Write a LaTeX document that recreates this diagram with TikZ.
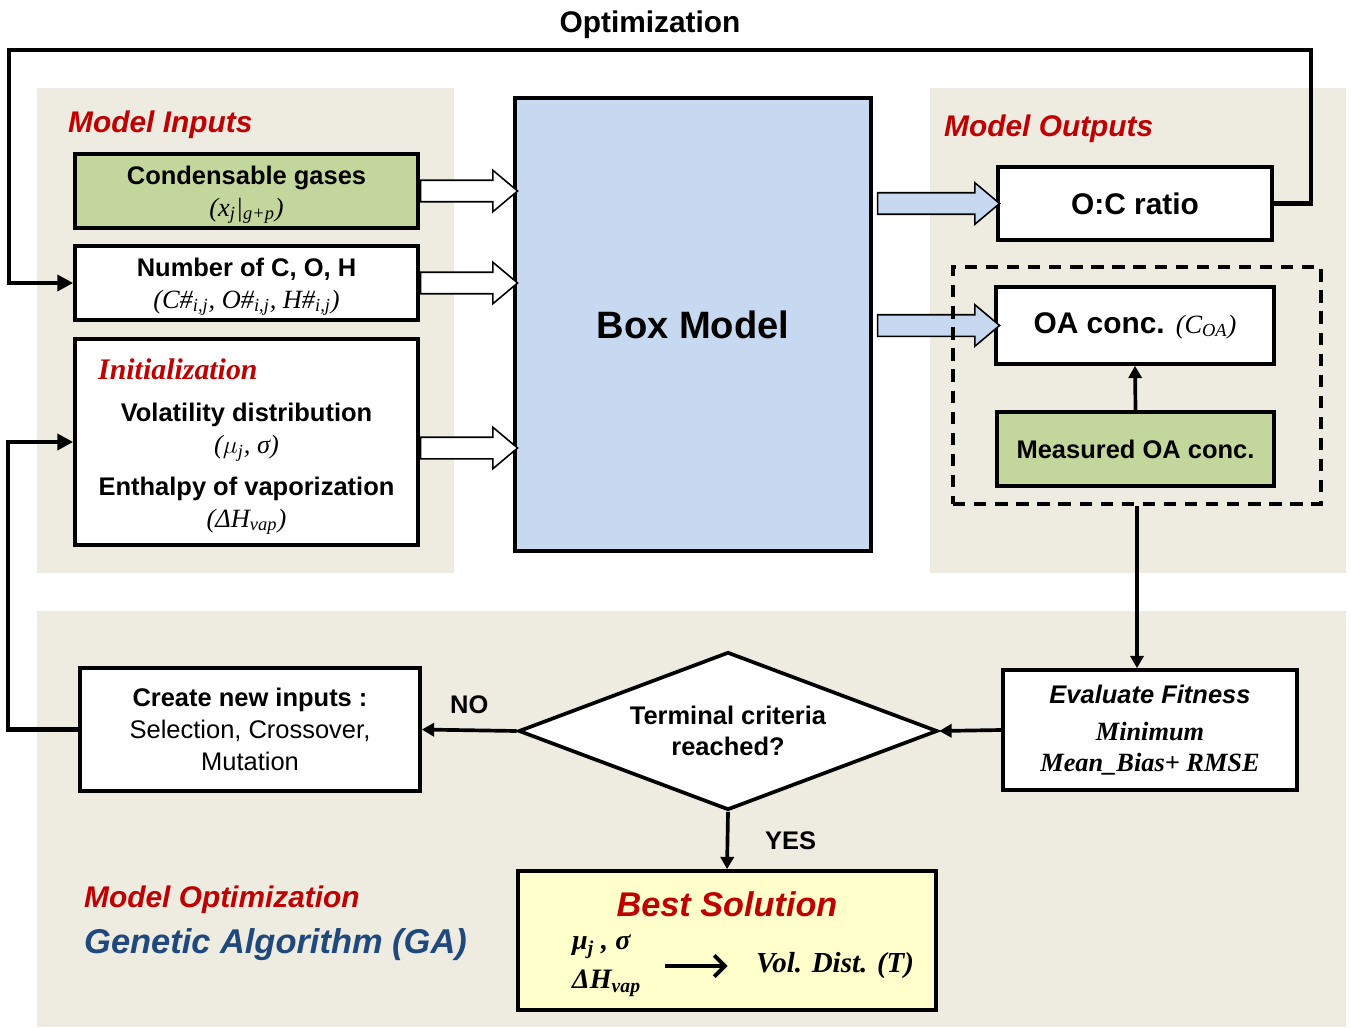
\documentclass[tikz,border=0pt]{standalone}
\usepackage{fontspec}
\setmainfont{Liberation Sans}
\newfontfamily\tms{Liberation Serif}
\usepackage{tikz}
\usetikzlibrary{arrows.meta}
\usetikzlibrary{shapes.geometric,shapes.arrows}
\definecolor{panel}{HTML}{EEECE1}
\definecolor{olive}{HTML}{C3D69B}
\definecolor{boxblue}{HTML}{C6D9F1}
\definecolor{darkred}{HTML}{C00000}
\definecolor{navy}{HTML}{1F497D}
\definecolor{paleyellow}{HTML}{FFFFCC}

\begin{document}
\begin{tikzpicture}[x=0.02cm, y=-0.02cm,
    box/.style={draw, line width=2.1pt, fill=white, align=center, inner sep=0pt, font=\fontsize{14.5}{18}\selectfont\bfseries},
    greenbox/.style={box, fill=olive},
    redhead/.style={text=darkred, font=\fontsize{17}{20}\selectfont\bfseries\itshape},
    hollow/.style={single arrow, draw, line width=0.9pt, fill=white, inner xsep=0pt, inner ysep=0.2cm, single arrow head extend=0.2cm, single arrow tip angle=80, minimum height=1.94cm, anchor=tail},
    bluearrow/.style={hollow, fill=boxblue, minimum height=2.44cm},
    arr/.style={line width=2.1pt, -{Triangle[length=7pt, width=7.5pt]}},
    loopline/.style={line width=2.6pt, -{Triangle[length=9pt, width=9pt]}},
    lbl/.style={font=\fontsize{14.5}{18}\selectfont\bfseries}]
\useasboundingbox (0,0) rectangle (1351,1027);

% background panels
\fill[panel] (37,88) rectangle (454,573);
\fill[panel] (930,88) rectangle (1346,573);
\fill[panel] (37,611) rectangle (1346,1027);

% titles
\node[font=\fontsize{17}{20}\selectfont\bfseries] (opt) at (650,25) {Optimization};
\node[redhead, anchor=west] (minp) at (62,125) {Model Inputs};
\node[redhead, anchor=west] (mout) at (938,129) {Model Outputs};
\node[redhead, anchor=west] (mopt) at (78,900) {Model Optimization};
\node[text=navy, anchor=west, font=\fontsize{19.6}{22}\selectfont\bfseries\itshape] (ga) at (78,945) {Genetic Algorithm (GA)};

% model inputs
\node[greenbox, minimum width=6.86cm, minimum height=1.48cm] (cond) at (246.5,191)
    {\\[-3pt]Condensable gases\\ {\tms\mdseries\itshape\fontsize{15}{18}\selectfont (x\textsubscript{j}|\textsubscript{g+p})}};
\node[box, minimum width=6.86cm, minimum height=1.48cm] (numb) at (246.5,283)
    {\\[-3pt]Number of C, O, H\\ {\tms\mdseries\itshape\fontsize{15}{18}\selectfont (C\#\textsubscript{i,j}, O\#\textsubscript{i,j}, H\#\textsubscript{i,j})}};
\node[box, minimum width=6.86cm, minimum height=4.12cm] (init) at (246.5,442) {};
\node[anchor=west, text=darkred, font=\tms\fontsize{17}{20}\selectfont\bfseries\itshape] (inith) at (92,369) {Initialization};
\node[align=center, font=\fontsize{14.5}{18}\selectfont\bfseries] (initx) at (246.5,469)
    {Volatility distribution\\ {\tms\mdseries\itshape\fontsize{15}{18}\selectfont ($\mu$\textsubscript{j}, σ)}\\[6pt]
     Enthalpy of vaporization\\ {\tms\mdseries\itshape\fontsize{15}{18}\selectfont (ΔH\textsubscript{vap})}};

% box model
\node[box, fill=boxblue, minimum width=7.12cm, minimum height=9.06cm, font=\fontsize{21.7}{24}\selectfont\bfseries] (boxm) at (693,324.5) {Box Model};

% model outputs
\node[box, minimum width=5.48cm, minimum height=1.46cm, font=\fontsize{17}{20}\selectfont\bfseries] (ocr) at (1135,203.5) {O:C ratio};
\node[box, minimum width=5.56cm, minimum height=1.54cm, font=\fontsize{17}{20}\selectfont\bfseries] (oac) at (1135,325.5)
    {OA conc. {\tms\mdseries\itshape\fontsize{15}{18}\selectfont (C\textsubscript{OA})}};
\node[greenbox, minimum width=5.54cm, minimum height=1.48cm] (meas) at (1135.5,449) {Measured OA conc.};

% block arrows
\node[hollow] (ha1) at (cond.east) {};
\node[hollow] (ha2) at (numb.east) {};
\node[hollow] (ha3) at ([yshift=-0.12cm]init.east) {};
\node[bluearrow] (ba1) at ([xshift=0.08cm]boxm.east |- ocr.west) {};
\node[bluearrow] (ba2) at ([xshift=0.08cm]boxm.east |- oac.west) {};

\node[draw, line width=2pt, dash pattern=on 7pt off 5pt, minimum width=7.36cm, minimum height=4.74cm] (obs) at (1137,385.5) {};

% optimization loop
\coordinate (tr) at (1311,50);
\coordinate (tl) at (9,50);
\draw[loopline] (ocr.east) -| (tr) -- (tl) |- (numb.west);
\draw[arr] (meas.north) -- (oac.south);

% genetic algorithm
\node[box, minimum width=5.88cm, minimum height=2.4cm, font=\fontsize{14.5}{18}\selectfont\bfseries\itshape] (eval) at (1150,730)
    {Evaluate Fitness\\[3pt] {\tms\fontsize{15}{18}\selectfont Minimum}\\ {\tms\fontsize{15}{18}\selectfont Mean\_Bias+ RMSE}};
\node[diamond, draw, line width=2.1pt, fill=white, aspect=2.65, minimum width=8.38cm, minimum height=3.16cm, inner sep=0pt, align=center, font=\fontsize{14.5}{17.5}\selectfont\bfseries] (crit) at (728,731)
    {Terminal criteria\\reached?};
\node[box, minimum width=6.8cm, minimum height=2.46cm] (cni) at (250,729.5)
    {Create new inputs :\\ {\mdseries Selection, Crossover,}\\ {\mdseries Mutation}};
\node[box, fill=paleyellow, minimum width=8.36cm, minimum height=2.78cm] (best) at (727,940.5) {};
\node[text=darkred, font=\fontsize{19.5}{22}\selectfont\bfseries\itshape] (bstitle) at (727,904) {Best Solution};
\node[anchor=west, align=left, font=\tms\fontsize{16}{22}\selectfont\bfseries\itshape] (bsin) at (566,966)
    {μ\textsubscript{j} , σ\\ ΔH\textsubscript{vap}};
\node[anchor=west, font=\tms\fontsize{16.5}{20}\selectfont\bfseries\itshape] (bsout) at (750,966) {Vol. Dist. (T)};
\draw[line width=2.2pt, -{Straight Barb[length=6pt, width=12pt]}] ([xshift=0.35cm]bsin.east) -- ([xshift=-0.45cm]bsout.west);

\draw[arr] (obs.south) -- (obs.south |- eval.north);
\draw[arr] (eval.west) -- (crit.east);
\draw[arr] (crit.west) -- node[lbl, midway, above=5pt] {NO} (cni.east);
\draw[arr] (crit.south) -- node[lbl, midway, right=0.6cm] {YES} (best.north);
\draw[loopline] (cni.west) -- ++(-70,0) |- (init.west);
\end{tikzpicture}
\end{document}
